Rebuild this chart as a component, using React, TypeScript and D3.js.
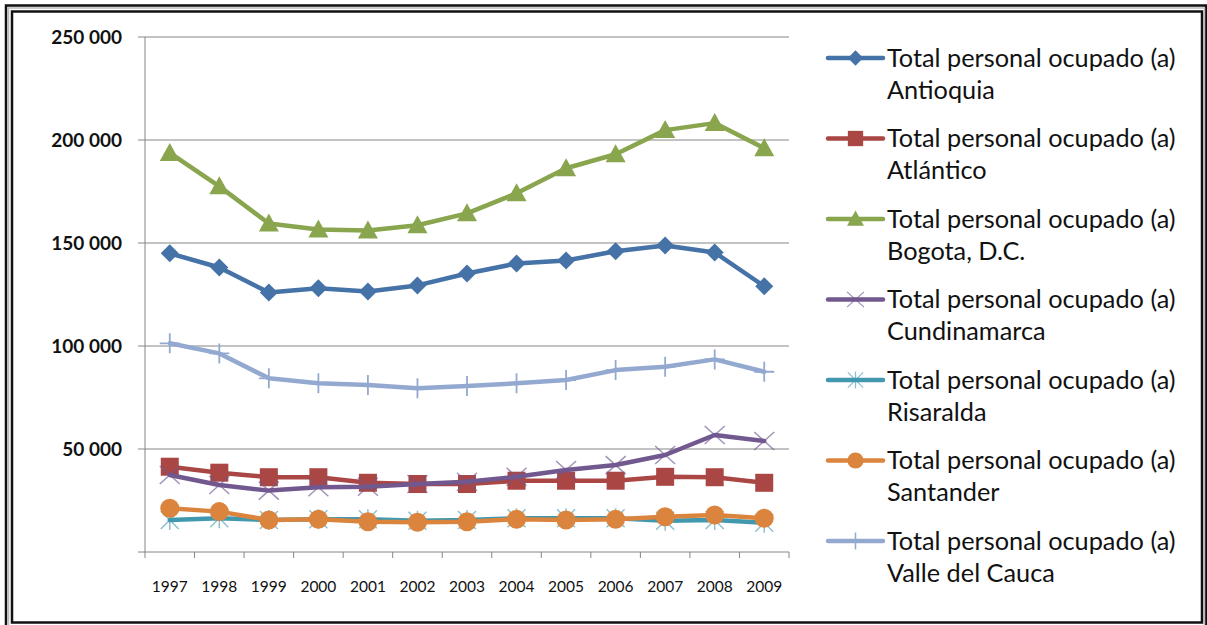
import * as d3 from 'd3';

const WIDTH = 1207;
const HEIGHT = 625;
const PLOT = { left: 145, right: 789, top: 37, bottom: 552 };

const YEARS = ['1997', '1998', '1999', '2000', '2001', '2002', '2003', '2004', '2005', '2006', '2007', '2008', '2009'];

const ANTIOQUIA = [145000, 138100, 126000, 128000, 126500, 129400, 135200, 140000, 141500, 146000, 148800, 145400, 129000];
const ATLANTICO = [41400, 38500, 36300, 36300, 33600, 33000, 33000, 34600, 34600, 34600, 36500, 36300, 33600];
const BOGOTA = [193700, 177500, 159500, 156600, 156100, 158600, 164400, 174100, 186300, 193100, 204800, 208200, 196000];
const CUNDINAMARCA = [37400, 32500, 29800, 31400, 31700, 33000, 34100, 36500, 39800, 42200, 47100, 56800, 53900];
const RISARALDA = [15500, 16400, 15500, 15900, 15900, 15200, 15500, 16400, 16400, 16400, 15200, 15500, 14200];
const SANTANDER = [21200, 19600, 15500, 15900, 14700, 14400, 14700, 15900, 15500, 15900, 17100, 18000, 16400];
const VALLE = [101300, 96400, 84300, 81900, 81100, 79500, 80600, 81900, 83500, 88300, 89900, 93500, 87500];

const Y_TICKS = [0, 50000, 100000, 150000, 200000, 250000];
const Y_LABELS = ['', '50 000', '100 000', '150 000', '200 000', '250 000'];

const PREFIX = 'Total personal ocupado (a)';

type Marker = 'diamond' | 'square' | 'triangle' | 'x' | 'star' | 'circle' | 'plus';

type Series = { name: string; values: number[]; color: string; marker: Marker };

const SERIES: Series[] = [
  { name: 'Antioquia', values: ANTIOQUIA, color: '#4572A7', marker: 'diamond' },
  { name: 'Atlántico', values: ATLANTICO, color: '#AA4643', marker: 'square' },
  { name: 'Bogota, D.C.', values: BOGOTA, color: '#89A54E', marker: 'triangle' },
  { name: 'Cundinamarca', values: CUNDINAMARCA, color: '#71588F', marker: 'x' },
  { name: 'Risaralda', values: RISARALDA, color: '#4198AF', marker: 'star' },
  { name: 'Santander', values: SANTANDER, color: '#DB843D', marker: 'circle' },
  { name: 'Valle del Cauca', values: VALLE, color: '#93A9CF', marker: 'plus' },
];

const FONT = 'Lato, "Open Sans", sans-serif';

// marker glyph drawn around (0,0)
const MarkerShape = ({ type, color }: { type: Marker; color: string }) => {
  const r = 9;
  switch (type) {
    case 'diamond':
      return <path d={`M0,-9L9,0L0,9L-9,0Z`} fill={color} />;
    case 'square':
      return <rect x={-r} y={-r} width={2 * r} height={2 * r} fill={color} />;
    case 'triangle':
      return <path d={`M0,-10L10,8L-10,8Z`} fill={color} />;
    case 'circle':
      return <circle r={r + 0.5} fill={color} />;
    case 'x':
      return (
        <path d={`M-10,-9L10,9M-10,9L10,-9`} stroke={color} strokeOpacity={0.65} strokeWidth={1.5} fill="none" />
      );
    case 'star':
      return (
        <path
          d={`M-9,-9L9,9M-9,9L9,-9M0,-10L0,10`}
          stroke={color}
          strokeOpacity={0.6}
          strokeWidth={1.5}
          fill="none"
        />
      );
    case 'plus':
      return <path d={`M0,-10L0,10M-10,0L10,0`} stroke={color} strokeWidth={1.8} fill="none" />;
  }
};

export default function App() {
  const xScale = d3.scaleBand<string>().domain(YEARS).range([PLOT.left, PLOT.right]);
  const yScale = d3.scaleLinear().domain([0, 250000]).range([PLOT.bottom, PLOT.top]);
  const cx = (year: string) => (xScale(year) ?? 0) + xScale.bandwidth() / 2;

  const line = d3
    .line<number>()
    .x((_, i) => cx(YEARS[i]))
    .y((d) => yScale(d));

  const boundaries = d3.range(YEARS.length + 1).map((i) => PLOT.left + i * xScale.bandwidth());

  const legendX = 828;
  const legendTop = 58;
  const legendStep = 80.5;

  return (
    <svg
      width={WIDTH}
      height={HEIGHT}
      style={{ position: 'absolute', left: 0, top: 0, background: '#fff' }}
      fontFamily={FONT}
    >
      <rect width={WIDTH} height={HEIGHT} fill="#fff" />
      {/* double frame */}
      <rect x={6} y={5.5} width={1200} height={630} fill="none" stroke="#111" strokeWidth={2.5} />
      <rect x={8.5} y={8} width={1196} height={625} fill="none" stroke="#bbb" strokeWidth={1.5} />
      <rect x={12} y={11.5} width={1190} height={611} fill="none" stroke="#111" strokeWidth={2.5} />

      {/* gridlines + y axis */}
      {Y_TICKS.map((t, i) => (
        <g key={t}>
          <line x1={PLOT.left - 7} x2={PLOT.right} y1={yScale(t)} y2={yScale(t)} stroke="#868686" strokeWidth={1} />
          <text
            x={122}
            y={yScale(t)}
            dy="0.35em"
            textAnchor="end"
            fontSize={19}
            fontWeight="bold"
            fill="#111"
          >
            {Y_LABELS[i]}
          </text>
        </g>
      ))}
      <line x1={PLOT.left} x2={PLOT.left} y1={PLOT.top} y2={PLOT.bottom} stroke="#868686" strokeWidth={1} />

      {/* x axis ticks + labels */}
      {boundaries.map((bx) => (
        <line key={bx} x1={bx} x2={bx} y1={PLOT.bottom} y2={PLOT.bottom + 6} stroke="#868686" strokeWidth={1} />
      ))}
      {YEARS.map((y) => (
        <text key={y} x={cx(y)} y={592} textAnchor="middle" fontSize={15.5} fill="#111">
          {y}
        </text>
      ))}

      {/* series */}
      {SERIES.map((s) => (
        <g key={s.name}>
          <path
            d={line(s.values) ?? ''}
            fill="none"
            stroke={s.color}
            strokeWidth={4.5}
            strokeLinejoin="round"
            strokeLinecap="round"
          />
          {s.values.map((v, i) => (
            <g key={i} transform={`translate(${cx(YEARS[i])},${yScale(v)})`}>
              <MarkerShape type={s.marker} color={s.color} />
            </g>
          ))}
        </g>
      ))}

      {/* legend */}
      {SERIES.map((s, i) => {
        const ly = legendTop + i * legendStep;
        return (
          <g key={s.name} transform={`translate(${legendX},${ly})`}>
            <line x1={0} x2={55} y1={0} y2={0} stroke={s.color} strokeWidth={4.5} strokeLinecap="round" />
            <g transform="translate(27.5,0) scale(0.85)">
              <MarkerShape type={s.marker} color={s.color} />
            </g>
            <text x={59} y={8.5} fontSize={25.3} fill="#111">
              {PREFIX}
            </text>
            <text x={59} y={40.5} fontSize={25.3} fill="#111">
              {s.name}
            </text>
          </g>
        );
      })}
    </svg>
  );
}
